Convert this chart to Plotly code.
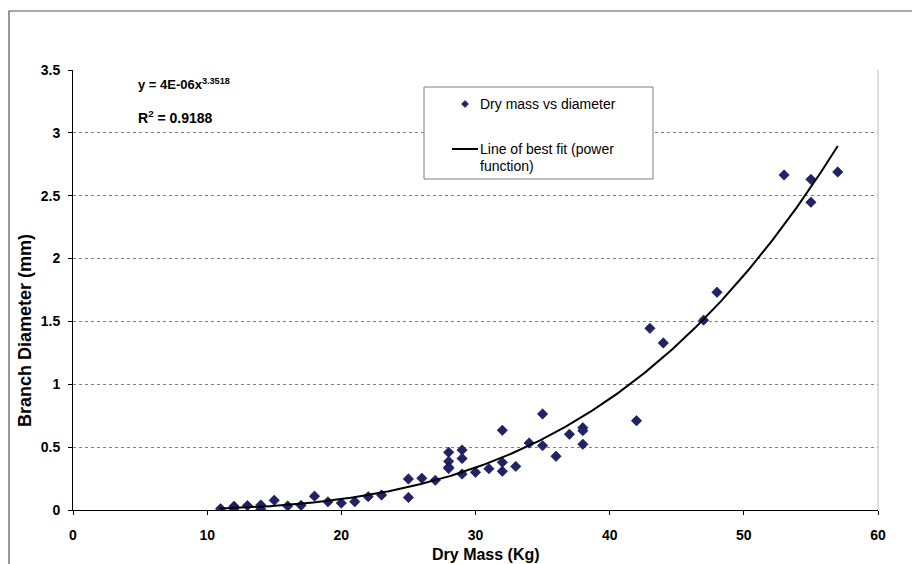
import numpy as np
import plotly.graph_objects as go

# Dry mass (kg) and branch diameter (mm) for each sampled branch
dry_mass = [11, 12, 12, 13, 14, 14, 15, 16, 17, 18, 19, 20, 21, 22, 23,
            25, 25, 26, 27, 28, 28, 28, 28, 29, 29, 29, 30, 31, 32, 32, 32,
            33, 34, 35, 35, 36, 37, 38, 38, 38, 42, 43, 44, 47, 48, 53, 55,
            55, 57]
diameter = [0.010, 0.030, 0.010, 0.035, 0.040, 0.005, 0.077, 0.032, 0.037,
            0.110, 0.065, 0.055, 0.066, 0.106, 0.119, 0.247, 0.100, 0.252,
            0.236, 0.459, 0.387, 0.340, 0.330, 0.477, 0.410, 0.286, 0.300,
            0.329, 0.634, 0.379, 0.308, 0.347, 0.533, 0.764, 0.512, 0.427,
            0.602, 0.655, 0.631, 0.523, 0.710, 1.445, 1.329, 1.510, 1.732,
            2.665, 2.630, 2.448, 2.689]

# Power-law trendline y = a * x^b
FIT_A = 3.77e-6
FIT_B = 3.3518
FIT_X_RANGE = (11, 57)

x_ticks = [0, 10, 20, 30, 40, 50, 60]
y_ticks = [0, 0.5, 1, 1.5, 2, 2.5, 3, 3.5]

W, H = 912, 564
L, R, T, B = 73, 34, 70, 54
PW, PH = W - L - R, H - T - B
FONT = "Liberation Sans, Arial, sans-serif"
MARKER_FILL = "#22226a"
MARKER_EDGE = "#101040"


def px(xp):
    """pixel x -> paper x"""
    return (xp - L) / PW


def py(yp):
    """pixel y (from top) -> paper y"""
    return (H - B - yp) / PH


fit_x = np.linspace(FIT_X_RANGE[0], FIT_X_RANGE[1], 300)
fit_y = FIT_A * fit_x ** FIT_B

fig = go.Figure()
fig.add_trace(go.Scatter(
    x=dry_mass, y=diameter, mode="markers", name="Dry mass vs diameter",
    marker=dict(symbol="diamond", size=8, color=MARKER_FILL,
                line=dict(width=0.6, color=MARKER_EDGE)),
    showlegend=False,
))
fig.add_trace(go.Scatter(
    x=fit_x, y=fit_y, mode="lines",
    name="Line of best fit (power function)",
    line=dict(color="black", width=2), showlegend=False,
))

shapes = [
    # outer chart frame
    dict(type="rect", xref="paper", yref="paper",
         x0=px(9), x1=px(W + 20), y0=py(11), y1=py(H + 20),
         line=dict(color="#555555", width=1.2), layer="below"),
    # plot-area right edge
    dict(type="line", xref="paper", yref="paper", x0=1, x1=1, y0=0, y1=1,
         line=dict(color="#c0c0c0", width=1)),
    # legend box
    dict(type="rect", xref="paper", yref="paper",
         x0=px(424), x1=px(653), y0=py(179), y1=py(87),
         fillcolor="white", line=dict(color="#808080", width=1)),
    # legend line sample
    dict(type="line", xref="paper", yref="paper",
         x0=px(452), x1=px(478), y0=py(149), y1=py(149),
         line=dict(color="black", width=2)),
]
# legend diamond symbol
cx, cy, r = 465, 104, 3.5
shapes.append(dict(
    type="path", xref="paper", yref="paper",
    path=(f"M {px(cx)} {py(cy - r)} L {px(cx + r)} {py(cy)} "
          f"L {px(cx)} {py(cy + r)} L {px(cx - r)} {py(cy)} Z"),
    fillcolor=MARKER_FILL, line=dict(color=MARKER_EDGE, width=0.6)))


def label(text, x, y, size, bold=False, angle=0, xanchor="left"):
    if bold:
        text = f"<b>{text}</b>"
    return dict(text=text, x=px(x), y=py(y), xref="paper", yref="paper",
                xanchor=xanchor, yanchor="middle", showarrow=False,
                textangle=angle, borderpad=0,
                font=dict(family=FONT, size=size, color="black"))


annotations = [
    label("y = 4E-06x<sup>3.3518</sup>", 137, 84, 13, bold=True),
    label("R<sup>2</sup> = 0.9188", 137, 117, 14, bold=True),
    label("Dry mass vs diameter", 479, 104, 14),
    label("Line of best fit (power", 479, 149, 14),
    label("function)", 479, 166, 14),
    label("Dry Mass (Kg)", 486, 554, 16, bold=True, xanchor="center"),
    label("Branch Diameter (mm)", 25, 331, 18, bold=True, angle=-90,
          xanchor="center"),
]

fig.update_layout(
    width=W, height=H,
    margin=dict(l=L, r=R, t=T, b=B, pad=0),
    paper_bgcolor="white", plot_bgcolor="white",
    font=dict(family=FONT, size=14, color="black"),
    shapes=shapes, annotations=annotations,
    xaxis=dict(
        range=[0, 60], tickvals=x_ticks,
        ticktext=[f"<b>{v}</b>" for v in x_ticks],
        showgrid=False, zeroline=False, showline=True, linecolor="black",
        linewidth=1, ticks="outside", ticklen=4, tickcolor="black",
        tickfont=dict(family=FONT, size=14), ticklabelstandoff=8,
        automargin=False,
    ),
    yaxis=dict(
        range=[0, 3.5], tickvals=y_ticks,
        ticktext=[f"<b>{v:g}</b>" for v in y_ticks],
        showgrid=True, gridcolor="#808080", griddash="dot", gridwidth=1,
        zeroline=False, showline=True, linecolor="black", linewidth=1,
        ticks="outside", ticklen=4, tickcolor="black",
        tickfont=dict(family=FONT, size=14), ticklabelstandoff=5,
        automargin=False,
    ),
)

fig.write_html("out.html")
